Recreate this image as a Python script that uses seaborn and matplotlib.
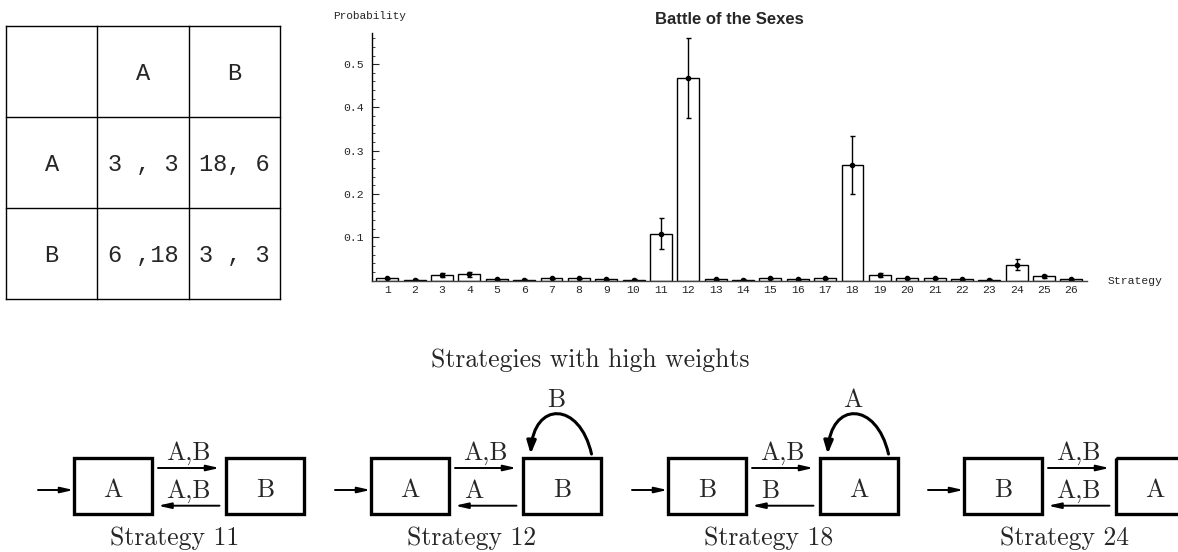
import numpy as np
import pandas as pd
import matplotlib
matplotlib.use("Agg")
import matplotlib.pyplot as plt
import seaborn as sns
from matplotlib.patches import Rectangle, FancyArrowPatch
from matplotlib.path import Path
from matplotlib.ticker import MultipleLocator

# ---------------- data ----------------
strategies = ["1", "2", "3", "4", "5", "6", "7", "8", "9", "10", "11", "12", "13",
              "14", "15", "16", "17", "18", "19", "20", "21", "22", "23", "24", "25", "26"]
probability = [0.005, 0.002, 0.013, 0.015, 0.003, 0.002, 0.005, 0.005, 0.003, 0.002,
               0.108, 0.467, 0.003, 0.002, 0.005, 0.003, 0.005, 0.267, 0.013, 0.005,
               0.005, 0.003, 0.002, 0.036, 0.010, 0.003]
err_low = [0.001, 0.001, 0.005, 0.006, 0.001, 0.001, 0.001, 0.001, 0.001, 0.001,
           0.036, 0.092, 0.001, 0.001, 0.001, 0.001, 0.001, 0.067, 0.005, 0.001,
           0.001, 0.001, 0.001, 0.012, 0.003, 0.001]
err_high = [0.001, 0.001, 0.005, 0.006, 0.001, 0.001, 0.001, 0.001, 0.001, 0.001,
            0.036, 0.093, 0.001, 0.001, 0.001, 0.001, 0.001, 0.067, 0.005, 0.001,
            0.001, 0.001, 0.001, 0.013, 0.003, 0.001]
y_ticks = [0.1, 0.2, 0.3, 0.4, 0.5]
y_ticklabels = ["0.1", "0.2", "0.3", "0.4", "0.5"]

chart_title = "Battle of the Sexes"
y_label = "Probability"
x_label = "Strategy"

payoff_cols = ["A", "B"]
payoff_rows = ["A", "B"]
payoff_cells = [["3 , 3", "18, 6"],
                ["6 ,18", "3 , 3"]]

diagram_title = "Strategies with high weights"
diag_captions = ["Strategy 11", "Strategy 12", "Strategy 18", "Strategy 24"]
diag_states = [("A", "B"), ("A", "B"), ("B", "A"), ("B", "A")]
diag_forward = ["A,B", "A,B", "A,B", "A,B"]
diag_back = ["A,B", "A", "B", "A,B"]
diag_loop = [None, "B", "A", None]

# ---------------- figure ----------------
sns.set_style("white")
plt.rcParams["font.family"] = ["DejaVu Sans"]
W, H = 1178, 552
fig = plt.figure(figsize=(W / 100, H / 100), dpi=100)

ov = fig.add_axes([0, 0, 1, 1])
ov.set_xlim(0, W)
ov.set_ylim(H, 0)
ov.axis("off")
ov.patch.set_alpha(0)

# ---- payoff table ----
xs = [6, 97.3, 188.7, 280]
ys = [26, 117, 208.3, 299]
for x in xs:
    ov.plot([x, x], [ys[0], ys[-1]], color="black", lw=1.0, solid_capstyle="projecting")
for y in ys:
    ov.plot([xs[0], xs[-1]], [y, y], color="black", lw=1.0, solid_capstyle="projecting")
mono = "Liberation Mono"
tfs = 17
cx = [(xs[i] + xs[i + 1]) / 2 for i in range(3)]
cy = [(ys[i] + ys[i + 1]) / 2 for i in range(3)]
for j, lab in enumerate(payoff_cols):
    ov.text(cx[j + 1], cy[0] + 8, lab, ha="center", va="baseline", family=mono, fontsize=tfs)
for i, lab in enumerate(payoff_rows):
    ov.text(cx[0], cy[i + 1] + 8, lab, ha="center", va="baseline", family=mono, fontsize=tfs)
    for j in range(2):
        ov.text(cx[j + 1], cy[i + 1] + 8, payoff_cells[i][j], ha="center", va="baseline",
                family=mono, fontsize=tfs)

# ---- bar chart ----
ax = fig.add_axes([372 / W, 1 - 280.6 / H, (1087 - 372) / W, (280.6 - 33) / H])
df = pd.DataFrame({"Strategy": strategies, "Probability": probability})
sns.barplot(data=df, x="Strategy", y="Probability", color="white", saturation=1,
            edgecolor="black", linewidth=1.0, errorbar=None, width=0.8, ax=ax)
xpos = np.arange(len(strategies))
ax.errorbar(xpos, probability, yerr=[err_low, err_high], fmt="o", ms=3,
            color="black", ecolor="black", elinewidth=1.0, capsize=1.8, capthick=1.0)
ax.set_xlim(-0.56, 25.57)
ax.set_ylim(0, 0.572)
ax.patch.set_alpha(0)
for s in ["top", "right"]:
    ax.spines[s].set_visible(False)
ax.spines["left"].set_color("black")
ax.spines["left"].set_linewidth(1.0)
ax.spines["bottom"].set_color("#444444")
ax.spines["bottom"].set_linewidth(1.0)
ax.set_yticks(y_ticks)
ax.set_yticklabels(y_ticklabels)
ax.yaxis.set_minor_locator(MultipleLocator(0.02))
ax.tick_params(axis="y", which="major", direction="in", length=5, width=0.8, pad=6,
               labelsize=8.2, left=True)
ax.tick_params(axis="y", which="minor", direction="in", length=2.5, width=0.6, left=True)
ax.tick_params(axis="x", length=0, pad=3.2, labelsize=8.2)
ax.set_xlabel("")
ax.set_ylabel("")
for lab in ax.get_xticklabels() + ax.get_yticklabels():
    lab.set_fontfamily(mono)

fig.text(333 / W, 1 - 16 / H, y_label, ha="left", va="center", family=mono, fontsize=8)
fig.text(1108 / W, 1 - 281 / H, x_label, ha="left", va="center", family=mono, fontsize=8.2)
fig.text(729 / W, 1 - 20 / H, chart_title, ha="center", va="center",
         family="Liberation Sans", weight="bold", fontsize=12)

# ---- strategy diagrams ----
serif = ["cmr10", "DejaVu Serif"]
dfs = 18.5
ov.text(590, 366.7, diagram_title, ha="center", va="baseline", family=serif, fontsize=dfs)

group_left = [74, 371, 668, 964]
box_w, box_top, box_bot = 78.3, 458.3, 514
straight = "-|>,head_length=0.75,head_width=0.17"


def arrow(x0, y0, x1, y1):
    ov.add_patch(FancyArrowPatch((x0, y0), (x1, y1), arrowstyle=straight, mutation_scale=10,
                                 lw=1.4, color="black", shrinkA=0, shrinkB=0))


for k, L in enumerate(group_left):
    b1 = L
    b2 = L + 151.7
    for bx, lab in zip([b1, b2], diag_states[k]):
        ov.add_patch(Rectangle((bx, box_top), box_w, box_bot - box_top, fill=False,
                               lw=2.4, edgecolor="black", clip_on=False))
        ov.text(bx + box_w / 2, 496.7, lab, ha="center", va="baseline", family=serif, fontsize=dfs)
    arrow(L - 36, 490, L - 0.5, 490)
    arrow(L + 84, 468, L + 145.5, 468)
    arrow(L + 145.5, 505.7, L + 84, 505.7)
    ov.text(L + 114, 460, diag_forward[k], ha="center", va="baseline", family=serif, fontsize=dfs)
    if len(diag_back[k]) > 1:
        ov.text(L + 114, 497.7, diag_back[k], ha="center", va="baseline", family=serif, fontsize=dfs)
    else:
        ov.text(L + 93, 497.7, diag_back[k], ha="left", va="baseline", family=serif, fontsize=dfs)
    if diag_loop[k] is not None:
        x0, x3, y0 = L + 220.5, L + 159.7, 454
        verts = [(x0, y0), (x0 - 12, y0 - 53), (x3 + 3, y0 - 53), (x3, y0)]
        p = Path(verts, [Path.MOVETO, Path.CURVE4, Path.CURVE4, Path.CURVE4])
        ov.add_patch(FancyArrowPatch(path=p, arrowstyle="-|>,head_length=0.75,head_width=0.27",
                                     mutation_scale=10, lw=2.2, color="black"))
        ov.text(L + 185, 407.3, diag_loop[k], ha="center", va="baseline", family=serif, fontsize=dfs)
    ov.text(L + 101, 545, diag_captions[k], ha="center", va="baseline", family=serif, fontsize=dfs)

fig.savefig("out.png", dpi=100)
